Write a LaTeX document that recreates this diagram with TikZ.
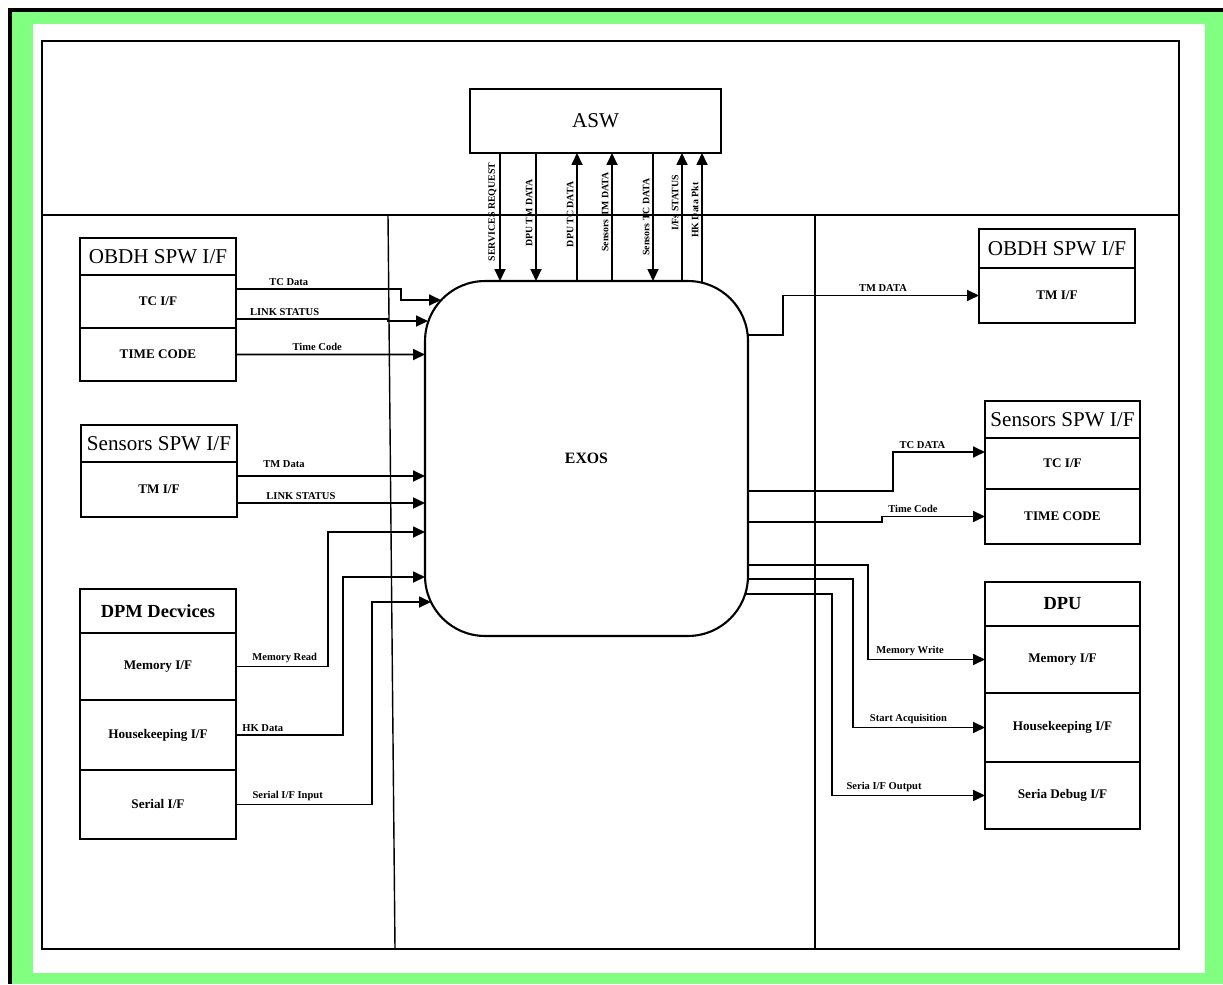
\documentclass[tikz,border=0pt]{standalone}
\usepackage{fontspec}
\setmainfont{Liberation Serif}
\usepackage[dvipsnames,svgnames,x11names]{xcolor}
\definecolor{framegreen}{RGB}{128, 255, 128}
\usepackage{tikz}
\usetikzlibrary{positioning,calc,arrows.meta}

\begin{document}
\begin{tikzpicture}[x=0.02cm, y=-0.02cm, >={Triangle[length=2.4mm,width=2.2mm]},
    box/.style={draw, line width=1.2pt, outer sep=0pt, inner sep=1pt, align=center},
    hdr/.style={box, font=\fontsize{12}{14}\selectfont},
    hdrb/.style={box, font=\fontsize{10.5}{12}\selectfont\bfseries},
    cell/.style={box, font=\fontsize{7.5}{9}\selectfont\bfseries},
    sig/.style={->, line width=1pt},
    lbl/.style={above, inner sep=1.5pt, font=\fontsize{6}{7}\selectfont\bfseries},
    vlbl/.style={rotate=90, anchor=south, inner sep=1.5pt, font=\fontsize{5.6}{6}\selectfont\bfseries}]
    \useasboundingbox (0,0) rectangle (1223,984);

    \fill[black] (8,8) rectangle (1223,984);
    \fill[framegreen] (12,12) rectangle (1223,984);
    \fill[white] (33,24) rectangle (1205,973);
    \draw[line width=0.8pt] (42,41) rectangle (1179,949);
    \draw[line width=0.8pt] (42,215) -- (1179,215);
    \draw[line width=0.8pt] (388,215) -- (395,949);
    \draw[line width=0.8pt] (815,215) -- (815,949);

    \node[box, minimum width=5.02cm, minimum height=1.28cm, font=\fontsize{12}{14}\selectfont] (asw) at (595.5,121) {ASW};
    \node[box, rounded corners=1.2cm, minimum width=6.46cm, minimum height=7.1cm, font=\fontsize{9}{11}\selectfont\bfseries] (exos) at (586.5,458.5) {EXOS};

    % left side
    \node[hdr, minimum width=3.12cm, minimum height=0.74cm, anchor=north west] (lobdh) at (80,238) {OBDH SPW I/F};
    \node[cell, minimum width=3.12cm, minimum height=1.06cm, below=0pt of lobdh] (ltc) {TC I/F};
    \node[cell, minimum width=3.12cm, minimum height=1.06cm, below=0pt of ltc] (ltime) {TIME CODE};

    \node[hdr, minimum width=3.12cm, minimum height=0.74cm, anchor=north west] (lsens) at (81,425) {Sensors SPW I/F};
    \node[cell, minimum width=3.12cm, minimum height=1.1cm, below=0pt of lsens] (ltm) {TM I/F};

    \node[hdrb, minimum width=3.12cm, minimum height=0.88cm, anchor=north west] (ldpm) at (80,589) {DPM Decvices};
    \node[cell, minimum width=3.12cm, minimum height=1.34cm, below=0pt of ldpm] (lmem) {Memory I/F};
    \node[cell, minimum width=3.12cm, minimum height=1.4cm, below=0pt of lmem] (lhk) {Housekeeping I/F};
    \node[cell, minimum width=3.12cm, minimum height=1.38cm, below=0pt of lhk] (lser) {Serial I/F};

    % right side
    \node[hdr, minimum width=3.12cm, minimum height=0.78cm, anchor=north west] (robdh) at (979,229) {OBDH SPW I/F};
    \node[cell, minimum width=3.12cm, minimum height=1.1cm, below=0pt of robdh] (rtm) {TM I/F};

    \node[hdr, minimum width=3.1cm, minimum height=0.74cm, anchor=north west] (rsens) at (985,401) {Sensors SPW I/F};
    \node[cell, minimum width=3.1cm, minimum height=1.02cm, below=0pt of rsens] (rtc) {TC I/F};
    \node[cell, minimum width=3.1cm, minimum height=1.1cm, below=0pt of rtc] (rtime) {TIME CODE};

    \node[hdrb, minimum width=3.1cm, minimum height=0.88cm, anchor=north west] (rdpu) at (985,582) {DPU};
    \node[cell, minimum width=3.1cm, minimum height=1.34cm, below=0pt of rdpu] (rmem) {Memory I/F};
    \node[cell, minimum width=3.1cm, minimum height=1.38cm, below=0pt of rmem] (rhk) {Housekeeping I/F};
    \node[cell, minimum width=3.1cm, minimum height=1.34cm, below=0pt of rhk] (rser) {Seria Debug I/F};

    % points on the EXOS border
    \coordinate (t1) at (500,281);
    \coordinate (t2) at (536,281);
    \coordinate (t3) at (577,281);
    \coordinate (t4) at (612,281);
    \coordinate (t5) at (653,281);
    \coordinate (t6) at (682,281);
    \coordinate (t7) at (702,283);
    \coordinate (e1) at (441,300);
    \coordinate (e2) at (428,321);
    \coordinate (e3) at (425,354.5);
    \coordinate (e4) at (425,476);
    \coordinate (e5) at (425,503);
    \coordinate (e6) at (425,532);
    \coordinate (e7) at (425,577);
    \coordinate (e8) at (431,602);
    \coordinate (o1) at (748,335);
    \coordinate (o2) at (748,491);
    \coordinate (o3) at (748,522);
    \coordinate (o4) at (748,565);
    \coordinate (o5) at (748,579);
    \coordinate (o6) at (745,594);

    % ASW <-> EXOS
    \draw[sig] (asw.south -| t1) -- (t1) node[vlbl, pos=.46] {SERVICES REQUEST};
    \draw[sig] (asw.south -| t2) -- (t2) node[vlbl, pos=.47] {DPU TM DATA};
    \draw[sig] (t3) -- (asw.south -| t3) node[vlbl, pos=.52] {DPU TC DATA};
    \draw[sig] (t4) -- (asw.south -| t4) node[vlbl, pos=.54] {Sensors TM DATA};
    \draw[sig] (asw.south -| t5) -- (t5) node[vlbl, pos=.5] {Sensors TC DATA};
    \draw[sig] (t6) -- (asw.south -| t6) node[vlbl, pos=.61] {I/Fs STATUS};
    \draw[sig] (t7) -- (asw.south -| t7) node[vlbl, pos=.56] {HK Data Pkt};

    % inputs
    \draw[sig] ([yshift=0.25cm]ltc.east) -- ++(165,0) node[lbl, pos=.32] {TC Data} |- (e1);
    \draw[sig] ([yshift=-0.35cm]ltc.east) -- ++(152,0) node[lbl, pos=.32] {LINK STATUS} |- (e2);
    \draw[sig] (ltime.east) -- (e3) node[lbl, pos=.43] {Time Code};
    \draw[sig] ([yshift=0.27cm]ltm.east) -- (e4) node[lbl, pos=.25, above=3pt] {TM Data};
    \draw[sig] ([yshift=-0.27cm]ltm.east) -- (e5) node[lbl, pos=.34] {LINK STATUS};
    \draw[sig] (lmem.east) -- ++(92,0) node[lbl, pos=.53] {Memory Read} |- (e6);
    \draw[sig] (lhk.east) -- ++(107,0) node[lbl, pos=.25] {HK Data} |- (e7);
    \draw[sig] (lser.east) -- ++(136,0) node[lbl, pos=.38] {Serial I/F Input} |- (e8);

    % outputs
    \draw[sig] (o1) -- ++(35,0) |- (rtm.west) node[lbl, pos=.755] {TM DATA};
    \draw[sig] (o2) -- ++(145,0) |- ([yshift=0.23cm]rtc.west) node[lbl, pos=.66] {TC DATA};
    \draw[sig] (o3) -- ++(134,0) |- (rtime.west) node[lbl, pos=.65] {Time Code};
    \draw[sig] (o4) -- ++(120,0) |- (rmem.west) node[lbl, pos=.68] {Memory Write};
    \draw[sig] (o5) -- ++(105,0) |- (rhk.west) node[lbl, pos=.71] {Start Acquisition};
    \draw[sig] (o6) -- ++(87,0) |- (rser.west) node[lbl, pos=.67] {Seria I/F Output};
\end{tikzpicture}
\end{document}
